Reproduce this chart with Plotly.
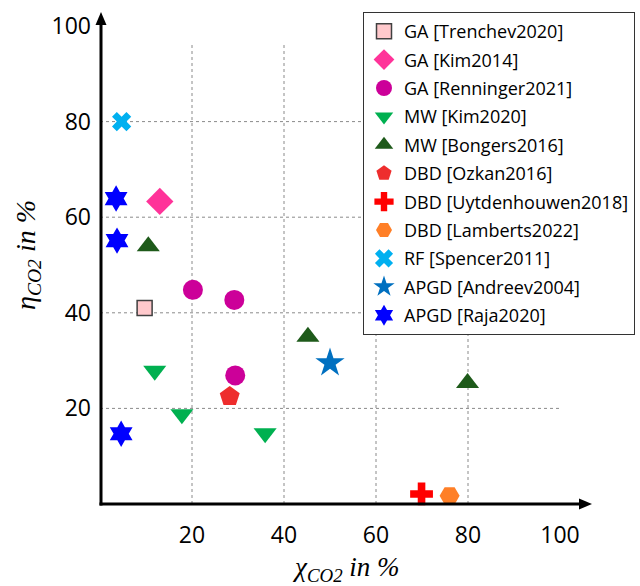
import plotly.graph_objects as go

# ---- data ----
series_names = [
    "GA [Trenchev2020]", "GA [Kim2014]", "GA [Renninger2021]",
    "MW [Kim2020]", "MW [Bongers2016]", "DBD [Ozkan2016]",
    "DBD [Uytdenhouwen2018]", "DBD [Lamberts2022]", "RF [Spencer2011]",
    "APGD [Andreev2004]", "APGD [Raja2020]",
]
trenchev_x = [9.7];   trenchev_y = [41.0]
kim2014_x = [13.0];   kim2014_y = [63.3]
renninger_x = [20.2, 29.2, 29.4]; renninger_y = [44.8, 42.7, 26.9]
kim2020_x = [11.9, 17.8, 35.9];   kim2020_y = [27.9, 18.8, 14.8]
bongers_x = [10.5, 45.2, 79.9];   bongers_y = [53.9, 35.0, 25.3]
ozkan_x = [28.2];     ozkan_y = [22.5]
uytden_x = [69.9];    uytden_y = [2.1]
lamberts_x = [76.0];  lamberts_y = [1.7]
spencer_x = [4.7];    spencer_y = [80.0]
andreev_x = [50.0];   andreev_y = [29.5]
raja_x = [3.5, 3.7, 4.6]; raja_y = [63.9, 55.1, 14.7]

x_ticks = [20, 40, 60, 80, 100]
y_ticks = [20, 40, 60, 80, 100]
grid_vals = [20, 40, 60, 80]

all_x = [trenchev_x, kim2014_x, renninger_x, kim2020_x, bongers_x, ozkan_x,
         uytden_x, lamberts_x, spencer_x, andreev_x, raja_x]
all_y = [trenchev_y, kim2014_y, renninger_y, kim2020_y, bongers_y, ozkan_y,
         uytden_y, lamberts_y, spencer_y, andreev_y, raja_y]

styles = [
    dict(symbol="square", color="#FFC9CC", size=15, line=dict(color="#404040", width=1.5)),
    dict(symbol="diamond", color="#FF3399", size=21),
    dict(symbol="circle", color="#CC0099", size=20),
    dict(symbol="triangle-down", color="#00B050", size=20),
    dict(symbol="triangle-up", color="#1E5A1A", size=20),
    dict(symbol="pentagon", color="#EE2D2D", size=21),
    dict(symbol="cross", color="#FF0000", size=19),
    dict(symbol="hexagon2", color="#FF7F27", size=20),
    dict(symbol="x", color="#00B0F0", size=17),
    dict(symbol="star", color="#0070C0", size=22),
    dict(symbol="hexagram", color="#0000FF", size=20),
]

# plot-area geometry (pixels)
W, H = 640, 586
L, R, T, B = 100, 80, 11, 82
PW, PH = W - L - R, H - T - B
Y_SCALE = (504 - 26) / 100.0          # pixels per y unit
Y_MAX = PH / Y_SCALE                  # so that y=100 sits at pixel 26


def px(xp):
    return (xp - L) / PW


def py(yp):
    return (H - B - yp) / PH


fig = go.Figure()
for i, (name, xs, ys, st) in enumerate(zip(series_names, all_x, all_y, styles)):
    m = dict(symbol=st["symbol"], color=st["color"], size=st["size"],
             line=st.get("line", dict(width=0)))
    fig.add_trace(go.Scatter(x=xs, y=ys, mode="markers", name=name,
                             legendgroup=f"g{i}", marker=m, cliponaxis=False))

shapes = []
for g in grid_vals:
    shapes.append(dict(type="line", xref="x", yref="y", x0=g, x1=g, y0=0, y1=96.5,
                       line=dict(color="#8a8a8a", width=1, dash="dot"), layer="below"))
    shapes.append(dict(type="line", xref="x", yref="y", x0=0, x1=100, y0=g, y1=g,
                       line=dict(color="#8a8a8a", width=1, dash="dot"), layer="below"))

# axis lines with arrow heads
ax0x, ax0y = 101, 504
shapes.append(dict(type="line", xref="paper", yref="paper", x0=px(ax0x - 1.5), y0=py(ax0y),
                   x1=px(582), y1=py(ax0y), line=dict(color="black", width=3)))
shapes.append(dict(type="line", xref="paper", yref="paper", x0=px(ax0x), y0=py(ax0y + 1.5),
                   x1=px(ax0x), y1=py(22), line=dict(color="black", width=3)))
shapes.append(dict(type="path", xref="paper", yref="paper",
                   path=f"M {px(592)} {py(ax0y)} L {px(579)} {py(ax0y - 5.5)} "
                        f"L {px(579)} {py(ax0y + 5.5)} Z",
                   fillcolor="black", line=dict(width=0)))
shapes.append(dict(type="path", xref="paper", yref="paper",
                   path=f"M {px(ax0x)} {py(12)} L {px(ax0x - 5.5)} {py(25)} "
                        f"L {px(ax0x + 5.5)} {py(25)} Z",
                   fillcolor="black", line=dict(width=0)))

annotations = [
    dict(xref="paper", yref="paper", x=px(346), y=py(569),
         text="<i>χ<sub>CO2</sub> in %</i>", showarrow=False,
         font=dict(family="Liberation Serif", size=27, color="black"),
         xanchor="center", yanchor="middle"),
    dict(xref="paper", yref="paper", x=px(27), y=py(255),
         text="<i>η<sub>CO2</sub> in %</i>", showarrow=False, textangle=-90,
         font=dict(family="Liberation Serif", size=28, color="black"),
         xanchor="center", yanchor="middle"),
]

fig.update_layout(
    width=W, height=H,
    margin=dict(l=L, r=R, t=T, b=B, autoexpand=False),
    paper_bgcolor="white", plot_bgcolor="white",
    font=dict(family="Open Sans", color="black"),
    xaxis=dict(range=[0, 100], tickvals=x_ticks, showgrid=False, zeroline=False,
               showline=False, ticks="", tickfont=dict(size=23, color="black"),
               ticklabelstandoff=15),
    yaxis=dict(range=[0, Y_MAX], tickvals=y_ticks, showgrid=False, zeroline=False,
               showline=False, ticks="", tickfont=dict(size=23, color="black"),
               ticklabelstandoff=8),
    legend=dict(x=px(363), y=py(12), xanchor="left", yanchor="top",
                bgcolor="white", bordercolor="#333333", borderwidth=1,
                font=dict(family="Open Sans", size=18, color="black"),
                itemsizing="trace", tracegroupgap=2),
    shapes=shapes,
    annotations=annotations,
    showlegend=True,
)

fig.write_html("out.html", config={"displayModeBar": False},
               post_script="document.body.style.margin='0px';")
